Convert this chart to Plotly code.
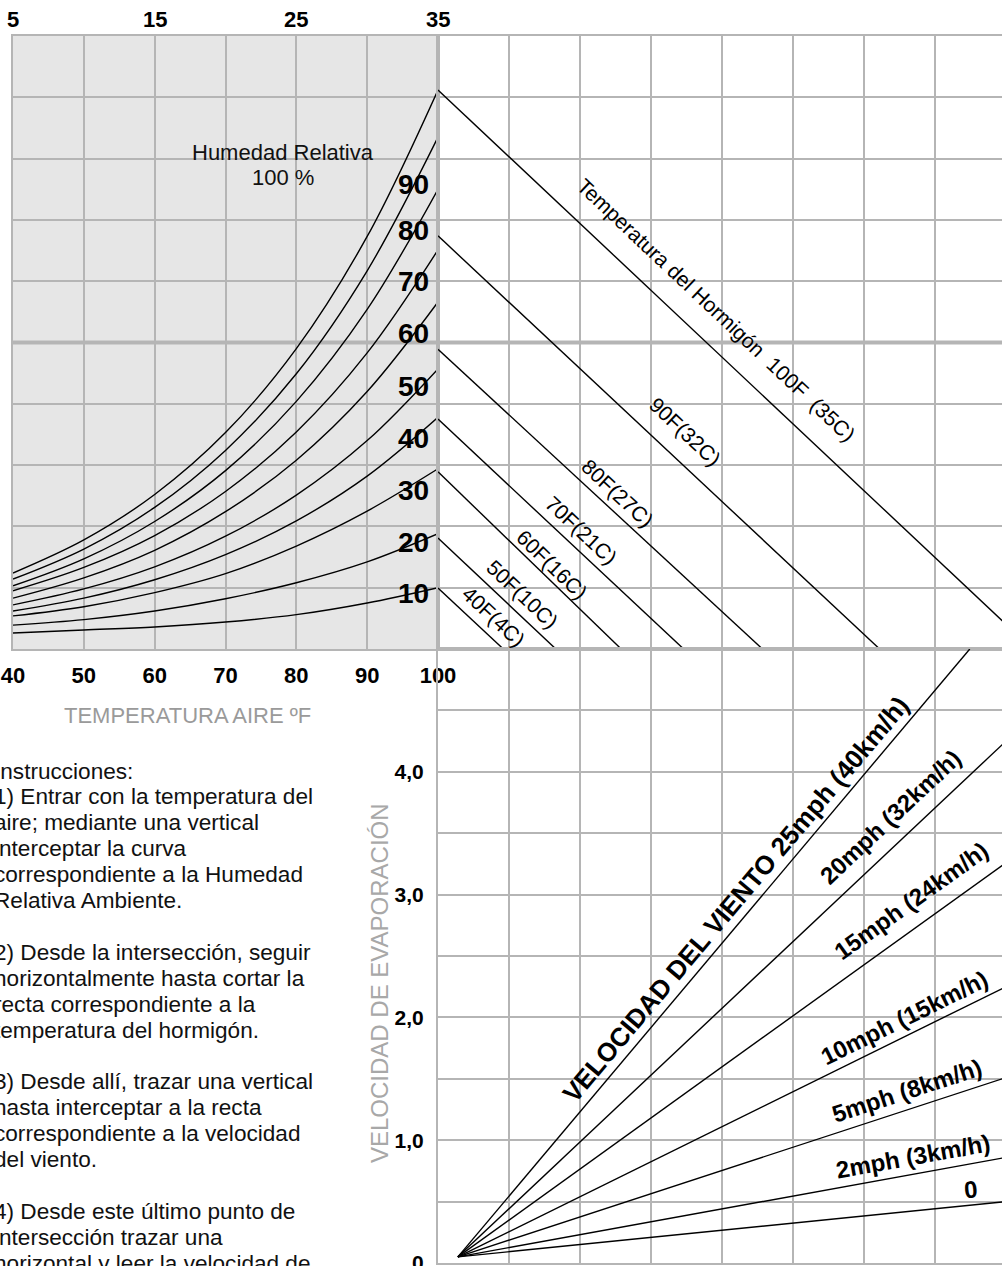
import math
import plotly.graph_objects as go

W, H = 1002, 1266
FONT = "Liberation Sans, Arial, sans-serif"
GRID = "#b5b5b5"

# ---------------- data ----------------
# Top-left panel: air temperature (°F) vs vapour pressure (grid units)
air_temp_f = [40, 50, 60, 70, 80, 90, 100]
rh_levels = [100, 90, 80, 70, 60, 50, 40, 30, 20, 10]
rh_values = [
    [1.24, 1.78, 2.52, 3.53, 4.90, 6.73, 9.12],
    [1.14, 1.63, 2.31, 3.24, 4.49, 6.17, 8.35],
    [1.03, 1.47, 2.08, 2.91, 4.04, 5.54, 7.50],
    [0.95, 1.33, 1.85, 2.57, 3.54, 4.83, 6.51],
    [0.83, 1.16, 1.61, 2.24, 3.08, 4.20, 5.66],
    [0.72, 0.98, 1.34, 1.84, 2.51, 3.40, 4.57],
    [0.62, 0.83, 1.13, 1.54, 2.09, 2.82, 3.78],
    [0.54, 0.69, 0.92, 1.23, 1.68, 2.25, 2.94],
    [0.39, 0.48, 0.62, 0.82, 1.08, 1.42, 1.88],
    [0.26, 0.31, 0.36, 0.44, 0.56, 0.75, 1.00],
]
rh_label_text = ["90", "80", "70", "60", "50", "40", "30", "20", "10"]
rh_label_y = [7.57, 6.82, 6.00, 5.14, 4.29, 3.44, 2.59, 1.74, 0.90]
top_celsius_ticks = ["5", "15", "25", "35"]
top_celsius_pos_f = [40, 60, 80, 100]
bottom_f_ticks = [40, 50, 60, 70, 80, 90, 100]
highlight_row = 5

# Top-right panel: concrete temperature lines (start on left edge, end on bottom)
concrete_labels = ["Temperatura del Hormigón\u00a0 100F\u00a0 (35C)", "90F(32C)", "80F(27C)",
                   "70F(21C)", "60F(16C)", "50F(10C)", "40F(4C)"]
concrete_start_y = [9.12, 6.74, 4.89, 3.75, 2.89, 1.81, 0.995]
concrete_end_x = [8.37, 6.22, 4.57, 3.46, 2.58, 1.66, 0.92]
concrete_label_x = [3.62, 3.23, 2.38, 1.86, 1.48, 1.03, 0.62]
concrete_label_gap = [30, 26, 16, 17, 13, 17, 17]

# Bottom-right panel: wind speed lines from a common origin
wind_labels = ["VELOCIDAD DEL VIENTO 25mph (40km/h)", "20mph (32km/h)", "15mph (24km/h)",
               "10mph (15km/h)", "5mph (8km/h)", "2mph (3km/h)", "0"]
wind_origin_x, wind_origin_y = 0.28, 0.05
wind_end_x = [7.49, 8, 8, 8, 8, 8, 8]
wind_end_y = [5.0, 4.25, 3.26, 2.25, 1.51, 0.86, 0.50]
wind_label_x = [4.39, 6.61, 6.87, 6.68, 6.69, 6.73, 7.52]
wind_label_gap = [18, 24, 24, 17, 18, 18, 16]
wind_label_size = [26, 24, 24, 24, 24, 24, 24]

evap_ticks = [0, 0.5, 1, 1.5, 2, 2.5, 3, 3.5, 4, 4.5, 5]
evap_ticktext = ["0", "", "1,0", "", "2,0", "", "3,0", "", "4,0", "", ""]

instruction_lines = [
    "Instrucciones:",
    "1) Entrar con la temperatura del", "aire; mediante una vertical",
    "interceptar la curva", "correspondiente a la Humedad", "Relativa Ambiente.", "",
    "2) Desde la intersección, seguir", "horizontalmente hasta cortar la",
    "recta correspondiente a la", "temperatura del hormigón.", "",
    "3) Desde allí, trazar una vertical", "hasta interceptar a la recta",
    "correspondiente a la velocidad", "del viento.", "",
    "4) Desde este último punto de", "intersección trazar una",
    "horizontal y leer la velocidad de", "evaporación.",
]

# ---------------- layout geometry (pixels) ----------------
X_LEFT, X_MID = 13, 438
Y_TOP, Y_MID, Y_BOT = 36, 649, 1263
RIGHT_RANGE = [0, (W - X_MID) / 71.0]
px_x_right = (W - X_MID) / (RIGHT_RANGE[1] - RIGHT_RANGE[0])
px_y_top = (Y_MID - Y_TOP) / 10.0
px_y_bot = (Y_BOT - Y_MID) / 5.0
INSTR_LEFT, INSTR_TOP, INSTR_STEP = -8, 771, 25.9


def px(xp):
    return xp / W


def py(yp):
    return 1 - yp / H


fig = go.Figure()

for lvl, vals in zip(rh_levels, rh_values):
    fig.add_trace(go.Scatter(x=air_temp_f, y=vals, mode="lines", xaxis="x", yaxis="y",
                             line=dict(color="black", width=1.4, shape="spline", smoothing=1.0),
                             name=f"{lvl}%", hoverinfo="skip"))

annotations = []
for s, e, lab, fx, gap in zip(concrete_start_y, concrete_end_x, concrete_labels,
                              concrete_label_x, concrete_label_gap):
    fig.add_trace(go.Scatter(x=[0, e], y=[s, 0], mode="lines", xaxis="x3", yaxis="y3",
                             line=dict(color="black", width=1.4), hoverinfo="skip"))
    th = math.atan((s / e) * px_y_top / px_x_right)
    annotations.append(dict(
        x=fx, y=s * (1 - fx / e), xref="x3", yref="y3", text=lab, showarrow=False,
        textangle=math.degrees(th), xanchor="center", yanchor="middle",
        xshift=gap * math.sin(th), yshift=gap * math.cos(th),
        font=dict(family=FONT, size=21, color="black")))

for ex, ey, lab, fx, gap, fs in zip(wind_end_x, wind_end_y, wind_labels, wind_label_x,
                                    wind_label_gap, wind_label_size):
    fig.add_trace(go.Scatter(x=[wind_origin_x, ex], y=[wind_origin_y, ey], mode="lines",
                             xaxis="x4", yaxis="y4",
                             line=dict(color="black", width=1.4), hoverinfo="skip"))
    m = (ey - wind_origin_y) / (ex - wind_origin_x)
    th = math.atan(m * px_y_bot / px_x_right)
    annotations.append(dict(
        x=fx, y=wind_origin_y + m * (fx - wind_origin_x), xref="x4", yref="y4",
        text=f"<b>{lab}</b>", showarrow=False, textangle=-math.degrees(th),
        xanchor="center", yanchor="middle",
        xshift=-gap * math.sin(th), yshift=gap * math.cos(th),
        font=dict(family=FONT, size=fs, color="black")))

for t, yv in zip(rh_label_text, rh_label_y):
    annotations.append(dict(x=96.6, y=yv, xref="x", yref="y", text=f"<b>{t}</b>",
                            showarrow=False, xanchor="center", yanchor="middle",
                            font=dict(family=FONT, size=28, color="black")))

for t, xv in zip(top_celsius_ticks, top_celsius_pos_f):
    annotations.append(dict(x=xv, y=py(20), xref="x", yref="paper", text=f"<b>{t}</b>",
                            showarrow=False, xanchor="center", yanchor="middle",
                            font=dict(family=FONT, size=22, color="black")))

annotations.append(dict(x=78.1, y=py(152), xref="x", yref="paper", text="Humedad Relativa",
                        showarrow=False, xanchor="center", yanchor="middle",
                        font=dict(family=FONT, size=22, color="#111")))
annotations.append(dict(x=78.1, y=py(178), xref="x", yref="paper", text="100 %",
                        showarrow=False, xanchor="center", yanchor="middle",
                        font=dict(family=FONT, size=22, color="#111")))
annotations.append(dict(x=64.7, y=py(715), xref="x", yref="paper", text="TEMPERATURA AIRE ºF",
                        showarrow=False, xanchor="center", yanchor="middle",
                        font=dict(family=FONT, size=22, color="#9a9a9a")))
annotations.append(dict(x=px(379), y=2.28, xref="paper", yref="y4", text="VELOCIDAD DE EVAPORACIÓN",
                        showarrow=False, textangle=-90, xanchor="center", yanchor="middle",
                        font=dict(family=FONT, size=24, color="#a8a8a8")))
for i, line in enumerate(instruction_lines):
    if not line:
        continue
    annotations.append(dict(x=px(INSTR_LEFT), y=py(INSTR_TOP + i * INSTR_STEP),
                            xref="paper", yref="paper",
                            text=line, showarrow=False, xanchor="left", yanchor="middle",
                            font=dict(family=FONT, size=22.6, color="#111")))

shapes = [
    dict(type="rect", xref="x domain", yref="y domain", x0=0, x1=1, y0=0, y1=1,
         fillcolor="#e6e6e6", line=dict(width=0), layer="below"),
    dict(type="line", xref="x domain", yref="y", x0=0, x1=1, y0=highlight_row, y1=highlight_row,
         line=dict(color=GRID, width=4), layer="below"),
    dict(type="line", xref="x3 domain", yref="y3", x0=0, x1=1, y0=highlight_row, y1=highlight_row,
         line=dict(color=GRID, width=4), layer="below"),
]

grid_axis = dict(showgrid=True, gridcolor=GRID, gridwidth=2, zeroline=False,
                 showline=True, linecolor=GRID, linewidth=2, ticks="", automargin=False)
tick_font = dict(family=FONT, size=22, color="black", weight="bold")

fig.update_layout(
    width=W, height=H, margin=dict(l=0, r=0, t=0, b=0, pad=0, autoexpand=False),
    paper_bgcolor="white", plot_bgcolor="white", showlegend=False,
    font=dict(family=FONT),
    xaxis=dict(domain=[px(X_LEFT), px(X_MID)], range=[40, 100], tickvals=bottom_f_ticks,
               mirror=True, anchor="y", tickfont=tick_font, ticklabelstandoff=6,
               ticklabeloverflow="allow", **grid_axis),
    yaxis=dict(domain=[py(Y_MID), py(Y_TOP)], range=[0, 10], dtick=1, showticklabels=False,
               mirror=True, anchor="x", **grid_axis),
    xaxis3=dict(domain=[px(X_MID), 1], range=RIGHT_RANGE, dtick=1, showticklabels=False,
                mirror=True, anchor="y3", **grid_axis),
    yaxis3=dict(domain=[py(Y_MID), py(Y_TOP)], range=[0, 10], dtick=1, showticklabels=False,
                anchor="x3", **grid_axis),
    xaxis4=dict(domain=[px(X_MID), 1], range=RIGHT_RANGE, dtick=1, showticklabels=False,
                mirror=True, anchor="y4", **grid_axis),
    yaxis4=dict(domain=[py(Y_BOT), py(Y_MID)], range=[0, 5], tickvals=evap_ticks,
                ticktext=evap_ticktext, anchor="x4", tickfont=dict(tick_font, size=21),
                ticklabelstandoff=8, ticklabeloverflow="allow", **grid_axis),
    annotations=annotations, shapes=shapes,
)

fig.write_html("out.html", config={"displayModeBar": False},
               post_script="document.body.style.margin='0px';document.body.style.overflow='hidden';")
